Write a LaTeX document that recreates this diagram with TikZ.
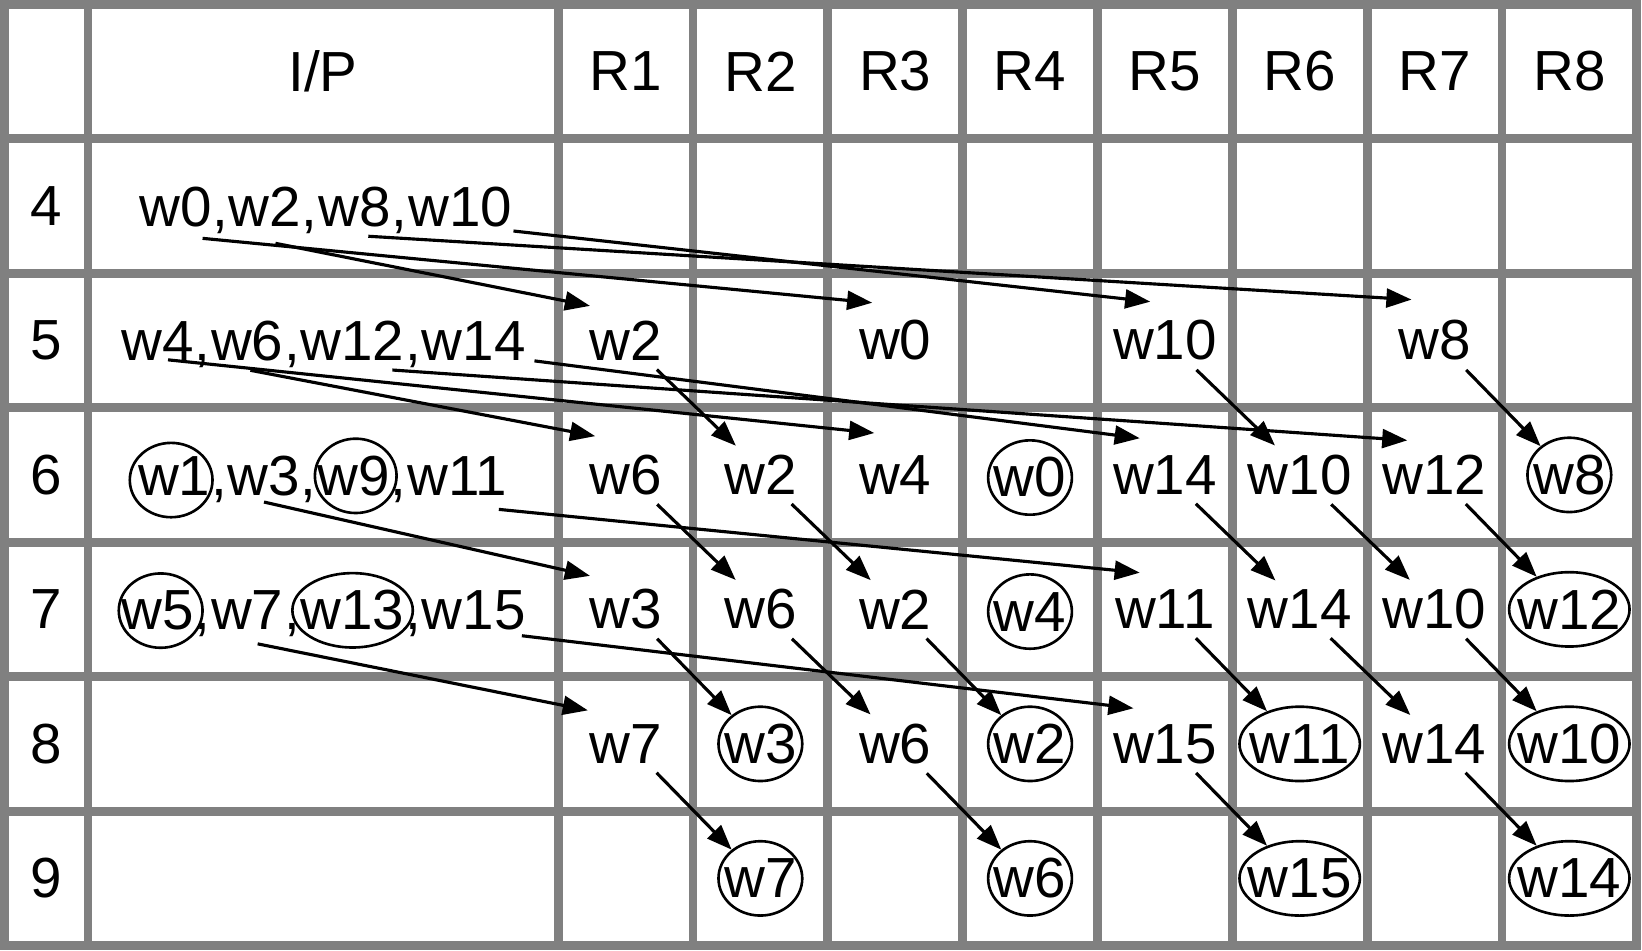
\documentclass[tikz,border=0pt]{standalone}
\usepackage{fontspec}
\setmainfont{Liberation Sans}
\usetikzlibrary{arrows.meta,shapes.geometric,calc}
\newcommand{\rtext}[1]{\makebox[0pt]{#1}}
\begin{document}
\begin{tikzpicture}[x=0.5pt,y=-0.5pt,
  every node/.style={font=\fontsize{27}{32}\selectfont},
  gridline/.style={draw=gray, line width=4.2pt},
  word/.style={inner xsep=1pt, inner ysep=4.3pt},
  ipw/.style={inner sep=0pt, anchor=base west},
  ring/.style={ellipse, draw, line width=1.25pt, inner sep=0pt, minimum height=35.5pt, minimum width=#1},
  ring/.default=40pt,
  arr/.style={line width=1.5pt, -{Triangle[length=12pt,width=9pt]}},
]
\path[use as bounding box] (0,0) rectangle (1568,908);
% grid
\draw[gridline] (4,4) rectangle (1563,903);
\foreach \x in {84,533,661.75,790.5,919.25,1048,1176.75,1305.5,1434.25}
  \draw[gridline] (\x,4) -- (\x,903);
\foreach \y in {132.4,260.9,389.3,517.7,646.1,774.6}
  \draw[gridline] (4,\y) -- (1563,\y);
% headers
\node (hIP) at (308.5,68.2) {I/P};
\node (hR1) at (597.4,68.2) {R1};
\node (hR2) at (726.1,68.2) {R2};
\node (hR3) at (854.9,68.2) {R3};
\node (hR4) at (983.6,68.2) {R4};
\node (hR5) at (1112.4,68.2) {R5};
\node (hR6) at (1241.1,68.2) {R6};
\node (hR7) at (1369.9,68.2) {R7};
\node (hR8) at (1498.6,68.2) {R8};
% row labels
\node (n4) at (44,196.65) {4};
\node (n5) at (44,325.1) {5};
\node (n6) at (44,453.5) {6};
\node (n7) at (44,581.9) {7};
\node (n8) at (44,710.35) {8};
\node (n9) at (44,838.8) {9};
% I/P row 4
\node[inner sep=0pt, anchor=base] (ip4) at (308.5,216.2) {\phantom{w0,w2,w8,w10}};
\node[ipw] (a0) at (ip4.base west) {w0};
\node[ipw] (a0k) at (a0.base east) {,};
\node[ipw] (a2) at (a0k.base east) {w2};
\node[ipw] (a2k) at (a2.base east) {,};
\node[ipw] (a8) at (a2k.base east) {w8};
\node[ipw] (a8k) at (a8.base east) {,};
\node[ipw] (a10) at (a8k.base east) {w10};
% I/P row 5
\node[inner sep=0pt, anchor=base] (ip5) at (306.5,344.2) {\phantom{w4,w6,w12,w14}};
\node[ipw] (b4) at (ip5.base west) {w4};
\node[ipw] (b4k) at (b4.base east) {,};
\node[ipw] (b6) at (b4k.base east) {w6};
\node[ipw] (b6k) at (b6.base east) {,};
\node[ipw] (b12) at (b6k.base east) {w12};
\node[ipw] (b12k) at (b12.base east) {,};
\node[ipw] (b14) at (b12k.base east) {w14};
% I/P row 6
\node[inner sep=0pt, anchor=base] (ip6) at (305.5,473) {\phantom{w1,w3,w9,w11}};
\node[ipw] (c1) at (ip6.base west) {w1};
\node[ipw] (c1k) at (c1.base east) {,};
\node[ipw] (c3) at (c1k.base east) {w3};
\node[ipw] (c3k) at (c3.base east) {,};
\node[ipw] (c9) at (c3k.base east) {w9};
\node[ipw] (c9k) at (c9.base east) {,};
\node[ipw] (c11) at (c9k.base east) {w11};
\node[ring=39.5pt] (e1) at ($(c1)+(-3,4)$) {};
\node[ring=39pt] (e9) at ($(c9)+(2,0)$) {};
% I/P row 7
\node[inner sep=0pt, anchor=base] (ip7) at (306.5,601.4) {\phantom{w5,w7,w13,w15}};
\node[ipw] (d5) at (ip7.base west) {w5};
\node[ipw] (d5k) at (d5.base east) {,};
\node[ipw] (d7) at (d5k.base east) {w7};
\node[ipw] (d7k) at (d7.base east) {,};
\node[ipw] (d13) at (d7k.base east) {w13};
\node[ipw] (d13k) at (d13.base east) {,};
\node[ipw] (d15) at (d13k.base east) {w15};
\node[ring=40pt] (e5) at ($(d5)+(3,0)$) {};
\node[ring=57.5pt] (e13) at (d13) {};
% R cells row 5
\node[word] (r5c1) at (597.4,325.1) {w2};
\node[word] (r5c3) at (854.9,325.1) {w0};
\node[word] (r5c5) at (1112.4,325.1) {w10};
\node[word] (r5c7) at (1369.9,325.1) {w8};
% row 6
\node[word] (r6c1) at (597.4,453.5) {w6};
\node[word] (r6c2) at (726.1,453.5) {w2};
\node[word] (r6c3) at (854.9,453.5) {w4};
\node[ring] (r6c4) at (983.6,456) {\rtext{w0}};
\node[word] (r6c5) at (1112.4,453.5) {w14};
\node[word] (r6c6) at (1241.1,453.5) {w10};
\node[word] (r6c7) at (1369.9,453.5) {w12};
\node[ring] (r6c8) at (1498.6,453.5) {\rtext{w8}};
% row 7
\node[word] (r7c1) at (597.4,581.9) {w3};
\node[word] (r7c2) at (726.1,581.9) {w6};
\node[word] (r7c3) at (854.9,581.9) {w2};
\node[ring] (r7c4) at (983.6,584) {\rtext{w4}};
\node[word] (r7c5) at (1112.4,581.9) {w11};
\node[word] (r7c6) at (1241.1,581.9) {w14};
\node[word] (r7c7) at (1369.9,581.9) {w10};
\node[ring=57.5pt] (r7c8) at (1498.6,581.9) {\rtext{w12}};
% row 8
\node[word] (r8c1) at (597.4,710.35) {w7};
\node[ring] (r8c2) at (726.1,710.35) {\rtext{w3}};
\node[word] (r8c3) at (854.9,710.35) {w6};
\node[ring] (r8c4) at (983.6,710.35) {\rtext{w2}};
\node[word] (r8c5) at (1112.4,710.35) {w15};
\node[ring=57.5pt] (r8c6) at (1241.1,710.35) {\rtext{w11}};
\node[word] (r8c7) at (1369.9,710.35) {w14};
\node[ring=57.5pt] (r8c8) at (1498.6,710.35) {\rtext{w10}};
% row 9
\node[ring] (r9c2) at (726.1,838.8) {\rtext{w7}};
\node[ring] (r9c4) at (983.6,838.8) {\rtext{w6}};
\node[ring=57.5pt] (r9c6) at (1241.1,838.8) {\rtext{w15}};
\node[ring=57.5pt] (r9c8) at (1498.6,838.8) {\rtext{w14}};
% long arrows from I/P
\draw[arr] ($(a0)+(26,30)$) -- ($(r5c3)+(-22,-36)$);
\draw[arr] ($(a2)+(10,35)$) -- ($(r5c1)+(-34,-33)$);
\draw[arr] ($(a8)+(13,28)$) -- ($(r5c7)+(-22,-39)$);
\draw[arr] ($(a10)+(51,23)$) -- ($(r5c5)+(-14,-37)$);
\draw[arr] ($(b4)+(10,18)$) -- ($(r6c3)+(-20,-40)$);
\draw[arr] ($(b6)+(3,28)$) -- ($(r6c1)+(-29,-37)$);
\draw[arr] ($(b12)+(38,28)$) -- ($(r6c7)+(-26,-33)$);
\draw[arr] ($(b14)+(58,19)$) -- ($(r6c5)+(-24,-35)$);
\draw[arr] ($(c3)+(0,25)$) -- ($(r7c1)+(-34,-32)$);
\draw[arr] ($(c11)+(40,32)$) -- ($(r7c5)+(-24,-35)$);
\draw[arr] ($(d7)+(10,32)$) -- ($(r8c1)+(-36,-32)$);
\draw[arr] ($(d15)+(46,24)$) -- ($(r8c5)+(-30,-34)$);
% diagonal arrows
\draw[arr] (r5c1.-43) -- (r6c2.130);
\draw[arr] (r5c5.-43) -- (r6c6.130);
\draw[arr] (r5c7.-43) -- (r6c8.135);
\draw[arr] (r6c1.-43) -- (r7c2.130);
\draw[arr] (r6c2.-43) -- (r7c3.130);
\draw[arr] (r6c5.-43) -- (r7c6.130);
\draw[arr] (r6c6.-43) -- (r7c7.130);
\draw[arr] (r6c7.-43) -- (r7c8.135);
\draw[arr] (r7c1.-43) -- (r8c2.135);
\draw[arr] (r7c2.-43) -- (r8c3.130);
\draw[arr] (r7c3.-43) -- (r8c4.135);
\draw[arr] (r7c5.-43) -- (r8c6.135);
\draw[arr] (r7c6.-43) -- (r8c7.130);
\draw[arr] (r7c7.-43) -- (r8c8.135);
\draw[arr] (r8c1.-43) -- (r9c2.135);
\draw[arr] (r8c3.-43) -- (r9c4.135);
\draw[arr] (r8c5.-43) -- (r9c6.135);
\draw[arr] (r8c7.-43) -- (r9c8.135);
\end{tikzpicture}
\end{document}
